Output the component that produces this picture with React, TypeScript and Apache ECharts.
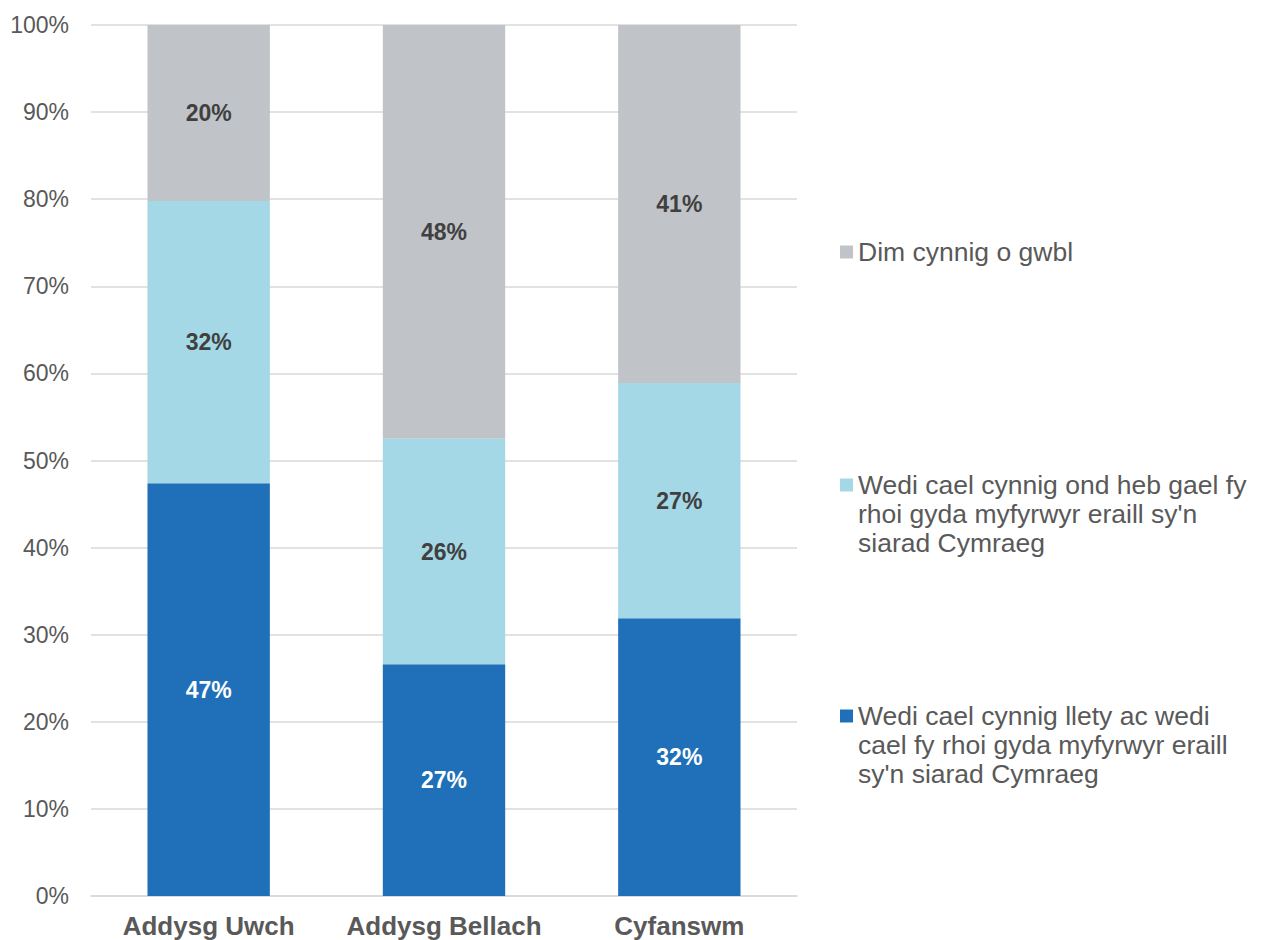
import React, { useEffect, useRef } from "react";
import * as echarts from "echarts";

const categories = ["Addysg Uwch", "Addysg Bellach", "Cyfanswm"];
const seriesNames = [
  "Wedi cael cynnig llety ac wedi cael fy rhoi gyda myfyrwyr eraill sy'n siarad Cymraeg",
  "Wedi cael cynnig ond heb gael fy rhoi gyda myfyrwyr eraill sy'n siarad Cymraeg",
  "Dim cynnig o gwbl",
];
const legendLines = [
  ["Wedi cael cynnig llety ac wedi", "cael fy rhoi gyda myfyrwyr eraill", "sy'n siarad Cymraeg"],
  ["Wedi cael cynnig ond heb gael fy", "rhoi gyda myfyrwyr eraill sy'n", "siarad Cymraeg"],
  ["Dim cynnig o gwbl"],
];
const placedWithStudents = [47.4, 26.6, 31.9];
const offeredNotPlaced = [32.4, 25.9, 27.0];
const noOffer = [20.2, 47.5, 41.1];
const yTicks = [0, 10, 20, 30, 40, 50, 60, 70, 80, 90, 100];

const colors = ["#1f70b8", "#a4d8e6", "#c0c4c8"];
const labelColors = ["#ffffff", "#404040", "#404040"];
const FONT = "'Liberation Sans', Arial, sans-serif";

export default function App() {
  const ref = useRef<HTMLDivElement>(null);
  useEffect(() => {
    document.body.style.margin = "0";
    const chart = echarts.init(ref.current!, undefined, { renderer: "svg" });
    const values = [placedWithStudents, offeredNotPlaced, noOffer];
    const iconCenters = [716, 485, 252];
    const LH = 29;
    chart.setOption({
      animation: false,
      textStyle: { fontFamily: FONT },
      grid: { left: 91, right: 473, top: 25, bottom: 44 },
      xAxis: {
        type: "category",
        data: categories,
        axisLine: { lineStyle: { color: "#d9d9d9", width: 1.5 } },
        axisTick: { show: false },
        axisLabel: {
          color: "#595959",
          fontSize: 26,
          fontWeight: "bold",
          fontFamily: FONT,
          margin: 17,
          interval: 0,
          hideOverlap: false,
        },
      },
      yAxis: {
        type: "value",
        min: yTicks[0],
        max: yTicks[yTicks.length - 1],
        interval: 10,
        axisLine: { show: false },
        axisTick: { show: false },
        splitLine: { lineStyle: { color: "#d9d9d9", width: 1.5 } },
        axisLabel: {
          color: "#595959",
          fontSize: 23,
          fontFamily: FONT,
          margin: 22,
          formatter: (v: number) => v + "%",
        },
      },
      legend: seriesNames.map((name, i) => {
        const lines = legendLines[i];
        const pad = lines.length - 1;
        const text = "\n".repeat(pad) + lines.join("\n");
        const totalLines = lines.length + pad;
        return {
          data: [name],
          left: 840,
          top: iconCenters[i] - (totalLines * LH) / 2,
          padding: 0,
          itemWidth: 13,
          itemHeight: 13,
          icon: "rect",
          selectedMode: false,
          orient: "vertical",
          formatter: () => text,
          textStyle: {
            color: "#595959",
            fontSize: 26.5,
            fontFamily: FONT,
            lineHeight: LH,
          },
        };
      }),
      series: seriesNames.map((name, i) => ({
        name,
        type: "bar",
        stack: "total",
        barWidth: "52%",
        data: values[i],
        itemStyle: { color: colors[i] },
        label: {
          show: true,
          position: "inside",
          color: labelColors[i],
          fontSize: 23,
          fontWeight: "bold",
          fontFamily: FONT,
          formatter: (p: any) => Math.round(p.value) + "%",
        },
      })),
    });
    return () => chart.dispose();
  }, []);
  return <div ref={ref} style={{ width: 1270, height: 940 }} />;
}
